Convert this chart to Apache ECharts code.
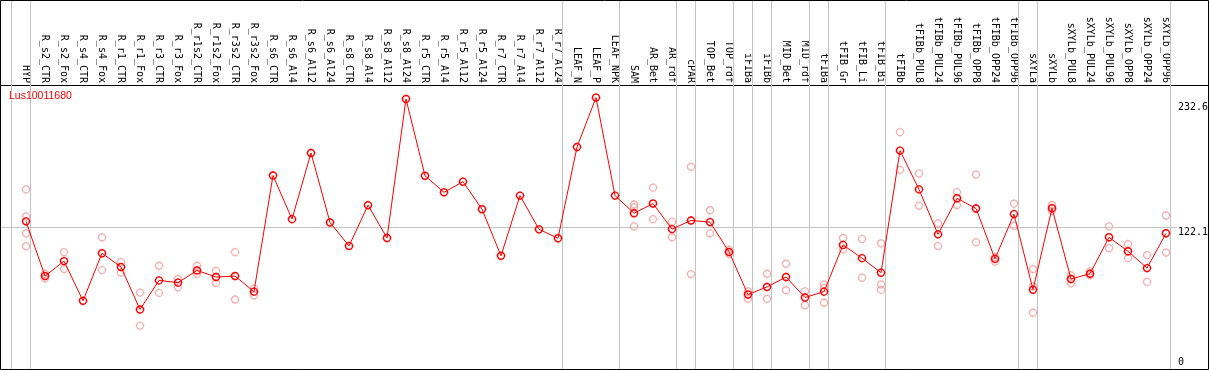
<!DOCTYPE html>
<html>
<head>
<meta charset="utf-8">
<script src="https://cdn.jsdelivr.net/npm/echarts@6/dist/echarts.min.js"></script>
<style>html,body{margin:0;padding:0;background:#fff;}#c{width:1209px;height:370px;}</style>
</head>
<body>
<div id="c"></div>
<script>
const geneName = 'Lus10011680';
const categories = ['HYP','R_s2_CTR','R_s2_Fox','R_s4_CTR','R_s4_Fox','R_r1_CTR','R_r1_Fox','R_r3_CTR','R_r3_Fox','R_r1s2_CTR','R_r1s2_Fox','R_r3s2_CTR','R_r3s2_Fox','R_s6_CTR','R_s6_Al4','R_s6_Al12','R_s6_Al24','R_s8_CTR','R_s8_Al4','R_s8_Al12','R_s8_Al24','R_r5_CTR','R_r5_Al4','R_r5_Al12','R_r5_Al24','R_r7_CTR','R_r7_Al4','R_r7_Al12','R_r7_Al24','LEAF_N','LEAF_P','LEAF_NPK','SAM','AR_Bet','AR_rdf','cPAR','TOP_Bet','TOP_rdf','iFIBa','iFIBb','MID_Bet','MID_rdf','tFIBa','tFIB_Gr','tFIB_Li','tFIB_Bi','tFIBb','tFIBb_PUL8','tFIBb_PUL24','tFIBb_PUL96','tFIBb_OPP8','tFIBb_OPP24','tFIBb_OPP96','sXYLa','sXYLb','sXYLb_PUL8','sXYLb_PUL24','sXYLb_PUL96','sXYLb_OPP8','sXYLb_OPP24','sXYLb_OPP96'];
const meanValues = [126.9,80.2,93.0,59.1,99.7,87.9,51.7,76.5,74.6,85.0,79.4,80.2,66.9,166.1,128.8,185.3,126.0,105.9,140.7,112.7,231.4,165.8,151.7,160.8,137.3,97.5,148.9,120.1,112.5,190.4,232.6,148.9,133.9,142.1,120.3,127.7,126.3,100.8,64.4,70.9,79.4,61.9,66.9,106.8,95.5,83.1,187.3,154.2,115.8,146.6,137.9,94.9,133.1,68.6,138.1,77.7,82.2,113.3,101.4,87.0,116.7];
const replicateValues = [
  [154.2,131.1,116.7,105.7],[82.2,78.2],[100.6,86.2],[],[113.3,85.3],[92.1,83.1],[66.1,37.9],[89.0,65.8],[77.7,70.6],[89.0,82.2],[84.7,74.3],[100.6,60.2],[69.5,63.8],
  [],[],[],[],[],[],[],[],[],[],[],[],[],[],[],[],[],[],[],
  [141.3,139.0,122.6],[155.7,128.8],[126.5,113.3],[173.5,81.9],[136.4,116.7],[102.8,99.2],[67.2,60.8],[82.2,60.8],[90.7,68.1],[67.2,55.3],[73.1,70.1,57.4],[112.7,102.8],[111.9,78.8],[108.2,73.1,68.4],
  [203.1,170.9],[167.8,140.4],[125.2,105.9],[151.9,140.9],[166.9,109.1],[96.4,92.6],[142.1,123.1],
  [86.2,71.4,48.9],[140.9,135.8],[80.8,74.0],[84.2,80.8],[122.6,104.0],[107.4,95.5],[98.1,75.2],[131.9,100.3]
];
const groupEnds = [-1,0,28,31,34,35,37,38,39,41,42,45,52,53,60];
const meanLineValue = 122.1;
const yTickLabels = ['232.6','122.1','0'];

// layout
const W = 1209, FIRST_X = 26, STEP = 19, HEADER = 85;
const xMin = -FIRST_X / STEP, xMax = (W - FIRST_X) / STEP;
const yMin = 0, yMax = 243.34;
const sym = 'path://M6,1.6L6,2.5M6,9.5L6,10.4M1.6,6L2.5,6M9.5,6L10.4,6' +
  'M9.5,6C9.5,7.933 7.933,9.5 6,9.5C4.067,9.5 2.5,7.933 2.5,6C2.5,4.067 4.067,2.5 6,2.5C7.933,2.5 9.5,4.067 9.5,6Z';
const symSize = 8.8;

const meanData = meanValues.map((v, i) => [i, v]);
const repData = [];
replicateValues.forEach((arr, i) => arr.forEach(v => repData.push([i, v])));

const chart = echarts.init(document.getElementById('c'), null, {renderer: 'canvas'});
const mono = 'DejaVu Sans Mono';
const gridLine = {color: '#c4c4c4', width: 1, type: 'solid'};
const vLines = groupEnds.map(g => ({xAxis: g + 0.24}));
chart.setOption({
  animation: false,
  backgroundColor: '#fff',
  title: {text: geneName, left: 9, top: 91, padding: 0,
    textStyle: {color: '#ff0000', fontSize: 10.5, fontWeight: 'normal', fontFamily: 'Liberation Sans'}},
  grid: [
    {left: 0, right: 0, top: HEADER, bottom: -2.6},
    {left: 0, right: 0, top: 0, height: HEADER}
  ],
  xAxis: [
    {
      type: 'value', gridIndex: 0, position: 'top', min: xMin, max: xMax,
      axisLine: {show: true, onZero: false, lineStyle: {color: '#000', width: 1}},
      axisTick: {show: false}, splitLine: {show: false},
      axisLabel: {customValues: categories.map((_, i) => i), formatter: v => categories[Math.round(v)],
        rotate: 90, margin: 2, fontFamily: mono, fontSize: 10, color: '#000', hideOverlap: false,
        showMinLabel: true, showMaxLabel: true}
    },
    {type: 'value', gridIndex: 1, min: xMin, max: xMax, show: false}
  ],
  yAxis: [
    {type: 'value', gridIndex: 0, position: 'right', min: yMin, max: yMax,
      axisLine: {show: false, onZero: false}, axisTick: {show: false}, splitLine: {show: false}, axisLabel: {show: false}},
    {type: 'value', gridIndex: 1, min: 0, max: 1, show: false}
  ],
  series: [
    {
      type: 'scatter', xAxisIndex: 1, yAxisIndex: 1, data: [], silent: true,
      markLine: {silent: true, symbol: 'none', z: 1, label: {show: false}, lineStyle: gridLine,
        emphasis: {disabled: true}, data: vLines}
    },
    {
      type: 'scatter', data: repData, symbol: sym, symbolSize: symSize, symbolKeepAspect: true, z: 2,
      itemStyle: {color: 'rgba(0,0,0,0)', borderColor: '#f09c9c', borderWidth: 1.3},
      markLine: {
        silent: true, symbol: 'none', z: 1,
        label: {show: false}, lineStyle: gridLine, emphasis: {disabled: true},
        data: vLines.concat([
          [{coord: [xMin, meanLineValue]}, {coord: [60.58, meanLineValue]}]
        ])
      }
    },
    {
      type: 'line', data: meanData, symbol: sym, symbolSize: symSize, symbolKeepAspect: true, showAllSymbol: true, z: 3,
      itemStyle: {color: 'rgba(0,0,0,0)', borderColor: '#ff0000', borderWidth: 1.4},
      lineStyle: {color: '#ff0000', width: 1}
    }
  ],
  graphic: [
    {type: 'rect', silent: true, z: 100, shape: {x: 0.5, y: 0.5, width: 1208, height: 369},
      style: {fill: null, stroke: '#000', lineWidth: 1}},
    {type: 'text', x: 1178, y: 107, silent: true, style: {text: yTickLabels[0], fontFamily: mono, fontSize: 10, fill: '#000', align: 'left', verticalAlign: 'middle'}},
    {type: 'text', x: 1178, y: 232, silent: true, style: {text: yTickLabels[1], fontFamily: mono, fontSize: 10, fill: '#000', align: 'left', verticalAlign: 'middle'}},
    {type: 'text', x: 1178, y: 362, silent: true, style: {text: yTickLabels[2], fontFamily: mono, fontSize: 10, fill: '#000', align: 'left', verticalAlign: 'middle'}}
  ]
});
</script>
</body>
</html>
